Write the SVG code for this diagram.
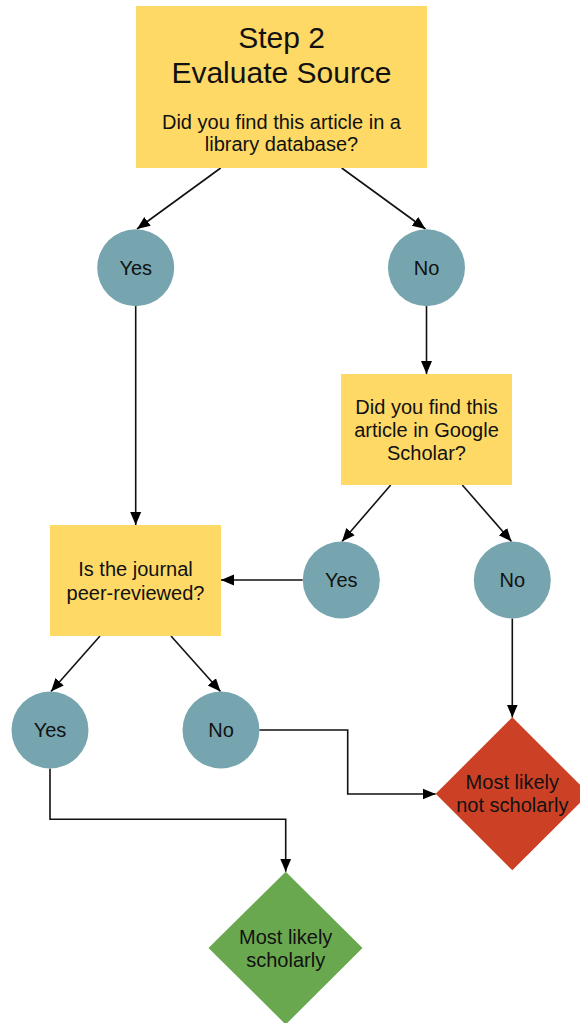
<svg xmlns="http://www.w3.org/2000/svg" width="580" height="1023" viewBox="0 0 580 1023">
<style>
.box{fill:#FFD966;}
.circ{fill:#76A5AF;}
.t{font-family:"Liberation Sans",Arial,sans-serif;font-size:20px;fill:#111;text-anchor:middle;}
.title{font-size:30px;}
.edge{fill:none;stroke:#111;stroke-width:1.6;marker-end:url(#ah);}
</style>
<defs>
<marker id="ah" markerUnits="userSpaceOnUse" markerWidth="14" markerHeight="14" viewBox="0 0 14 14" refX="13" refY="7" orient="auto">
<path d="M0,1.5 L13,7 L0,12.5 Z" fill="#000"/>
</marker>
</defs>
<rect width="580" height="1023" fill="#fff"/>
<g id="connectors">
<line class="edge" x1="220.7" y1="168" x2="137" y2="229"/>
<line class="edge" x1="341.7" y1="168" x2="425.5" y2="229"/>
<line class="edge" x1="135.7" y1="306" x2="135.7" y2="525"/>
<line class="edge" x1="426.5" y1="306" x2="426.5" y2="374"/>
<line class="edge" x1="390.7" y1="485" x2="342" y2="541.5"/>
<line class="edge" x1="462.3" y1="485" x2="511.5" y2="541.5"/>
<line class="edge" x1="302.7" y1="580" x2="221" y2="580"/>
<line class="edge" x1="512.3" y1="618.5" x2="512.3" y2="717.5"/>
<line class="edge" x1="100" y1="636" x2="51" y2="691.5"/>
<line class="edge" x1="171" y1="636" x2="220.5" y2="691.5"/>
<polyline class="edge" points="259.3,730 347.7,730 347.7,794 435.7,794"/>
<polyline class="edge" points="50,768.5 50,819.3 285.7,819.3 285.7,871.7"/>
</g>
<g id="start">
<rect class="box" x="136" y="6" width="291" height="162"/>
<text class="t title" x="281.5" y="47.5">Step 2</text>
<text class="t title" x="281.5" y="82.7">Evaluate Source</text>
<text class="t" x="281.5" y="129">Did you find this article in a</text>
<text class="t" x="281.5" y="151">library database?</text>
</g>
<g id="yes1">
<circle class="circ" cx="135.7" cy="267.7" r="38.5"/>
<text class="t" x="135.7" y="274.7">Yes</text>
</g>
<g id="no1">
<circle class="circ" cx="426.5" cy="267.7" r="38.5"/>
<text class="t" x="426.5" y="274.7">No</text>
</g>
<g id="scholar">
<rect class="box" x="341" y="374" width="171" height="111"/>
<text class="t" x="426.5" y="414.3">Did you find this</text>
<text class="t" x="426.5" y="437">article in Google</text>
<text class="t" x="426.5" y="460">Scholar?</text>
</g>
<g id="yes2">
<circle class="circ" cx="341.3" cy="580" r="38.5"/>
<text class="t" x="341.3" y="587">Yes</text>
</g>
<g id="no2">
<circle class="circ" cx="512.3" cy="580" r="38.5"/>
<text class="t" x="512.3" y="587">No</text>
</g>
<g id="peer">
<rect class="box" x="50" y="525" width="171" height="111"/>
<text class="t" x="135.5" y="576">Is the journal</text>
<text class="t" x="135.5" y="599.5">peer-reviewed?</text>
</g>
<g id="yes3">
<circle class="circ" cx="50" cy="730" r="38.5"/>
<text class="t" x="50" y="737">Yes</text>
</g>
<g id="no3">
<circle class="circ" cx="221" cy="730" r="38.5"/>
<text class="t" x="221" y="737">No</text>
</g>
<g id="notscholarly">
<polygon points="512.3,717.3 589,793.8 512.3,870.3 435.7,793.8" fill="#CC4125"/>
<text class="t" x="512.3" y="788.5">Most likely</text>
<text class="t" x="512.3" y="811.7">not scholarly</text>
</g>
<g id="scholarly">
<polygon points="285.7,871.7 362.5,948 285.7,1024.5 208.5,948" fill="#6AA84F"/>
<text class="t" x="285.7" y="944">Most likely</text>
<text class="t" x="285.7" y="967">scholarly</text>
</g>
</svg>
